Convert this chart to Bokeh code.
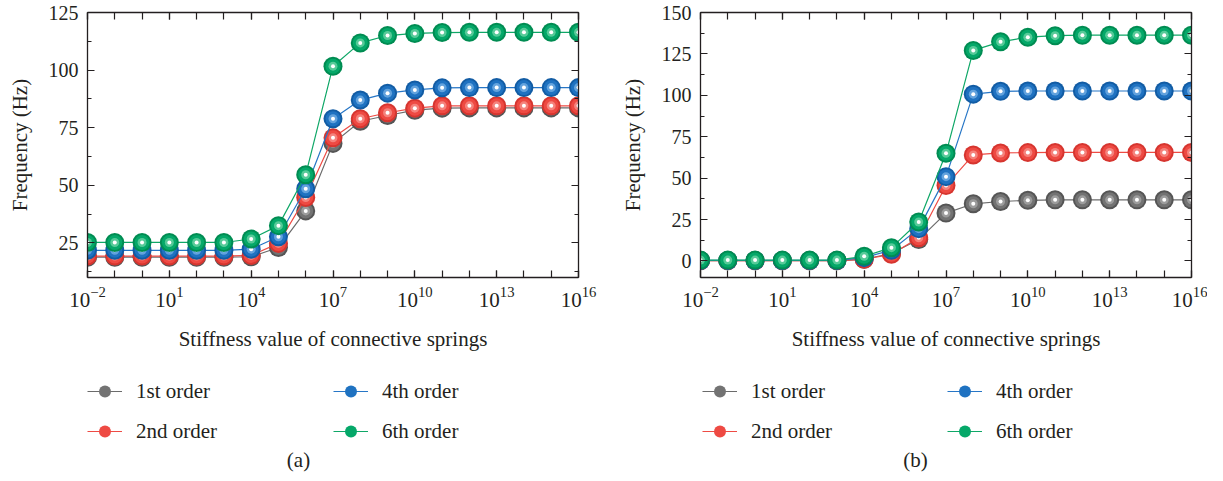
from bokeh.plotting import figure
from bokeh.models import (LogAxis, LinearAxis, FixedTicker, Legend, LegendItem,
                          Label, Range1d)
from bokeh.layouts import row, column
from bokeh.embed import file_html
from bokeh.resources import INLINE

# ---------------- data ----------------
exponents = list(range(-2, 17))          # stiffness = 10**exponent
stiffness = [10.0 ** e for e in exponents]

series_names = ["1st order", "2nd order", "4th order", "6th order"]

# panel (a)
a_1st = [18.8, 18.8, 18.8, 18.8, 18.8, 18.8, 19.0, 23.0, 38.9, 68.2, 77.8, 80.3, 82.6,
         83.5, 83.6, 83.6, 83.6, 83.6, 83.6]
a_2nd = [19.3, 19.3, 19.3, 19.3, 19.3, 19.3, 19.6, 24.8, 44.7, 70.6, 78.9, 81.5, 83.5,
         84.5, 84.5, 84.5, 84.5, 84.5, 84.5]
a_4th = [21.8, 21.8, 21.8, 21.8, 21.8, 21.8, 22.3, 27.7, 48.5, 78.9, 87.0, 90.0, 91.4,
         92.3, 92.4, 92.4, 92.4, 92.4, 92.4]
a_6th = [25.2, 25.2, 25.2, 25.2, 25.2, 25.2, 26.7, 32.5, 54.6, 101.7, 111.8, 115.0, 115.9,
         116.3, 116.4, 116.4, 116.4, 116.4, 116.4]

# panel (b)
b_1st = [0.1, 0.1, 0.1, 0.1, 0.1, 0.1, 1.0, 4.5, 12.9, 28.9, 34.5, 35.9, 36.6,
         36.9, 36.9, 36.9, 36.9, 36.9, 36.9]
b_2nd = [0.2, 0.2, 0.2, 0.2, 0.2, 0.2, 1.0, 4.0, 14.0, 45.5, 64.0, 65.2, 65.4,
         65.5, 65.5, 65.5, 65.5, 65.5, 65.5]
b_4th = [0.3, 0.3, 0.3, 0.3, 0.3, 0.3, 2.0, 6.5, 19.5, 50.9, 100.7, 102.4, 102.6,
         102.6, 102.6, 102.6, 102.6, 102.6, 102.6]
b_6th = [0.5, 0.5, 0.5, 0.5, 0.5, 0.5, 2.8, 8.0, 23.5, 65.0, 127.1, 132.3, 135.1,
         136.0, 136.3, 136.3, 136.3, 136.3, 136.3]

x_major = [1e-2, 1e1, 1e4, 1e7, 1e10, 1e13, 1e16]
a_yticks = [25, 50, 75, 100, 125]
b_yticks = [0, 25, 50, 75, 100, 125, 150]

# ---------------- style ----------------
FONT = "Liberation Serif"
INK = "#231f20"
# base, mid, light, line
PALETTE = [
    ("#555555", "#737373", "#a9a9a9", "#6b6b6b"),
    ("#d6352f", "#ee4a43", "#f7958f", "#ee4b44"),
    ("#125ca4", "#1f72c1", "#7ab3e6", "#2776c6"),
    ("#008c52", "#05a869", "#72d6a8", "#0fa767"),
]

PLOT_H = 356
LEG_H = 117


def style_axis(ax, show_labels, font_size, minor_len):
    ax.axis_line_color = INK
    ax.axis_line_width = 1.3
    ax.major_tick_in = 7
    ax.major_tick_out = 0
    ax.minor_tick_in = minor_len
    ax.minor_tick_out = 0
    ax.major_tick_line_color = INK
    ax.minor_tick_line_color = INK
    ax.major_tick_line_width = 1.2
    ax.minor_tick_line_width = 1.2
    if show_labels:
        ax.major_label_text_font = FONT
        ax.major_label_text_font_size = font_size
        ax.major_label_text_color = INK
        ax.major_label_standoff = 9
    else:
        ax.major_label_text_font_size = "1px"
        ax.major_label_text_alpha = 0
        ax.major_label_standoff = 0


def make_panel(series, y_lo, y_hi, yticks, caption, width, border_left, border_right,
               leg_x1, leg_x2, cap_x):
    p = figure(x_axis_type="log", x_range=Range1d(1e-2, 1e16),
               y_range=Range1d(y_lo, y_hi),
               width=width, height=PLOT_H,
               min_border_left=border_left, min_border_right=border_right,
               min_border_top=12, min_border_bottom=79,
               output_backend="svg", toolbar_location=None)
    p.xgrid.visible = False
    p.ygrid.visible = False
    p.outline_line_color = None
    p.background_fill_color = "white"
    p.border_fill_color = "white"

    bottom_ax = p.below[0]
    left_ax = p.left[0]

    minor_x = [10.0 ** e for e in exponents]
    yminor = [t + 12.5 for t in [yticks[0] - 25] + yticks]

    bottom_ax.ticker = FixedTicker(ticks=x_major, minor_ticks=minor_x)
    left_ax.ticker = FixedTicker(ticks=yticks, minor_ticks=yminor)
    style_axis(bottom_ax, True, "21px", 7)
    style_axis(left_ax, True, "20px", 4)

    left_ax.axis_label = "Frequency (Hz)"
    bottom_ax.axis_label = "Stiffness value of connective springs"
    for ax in (bottom_ax, left_ax):
        ax.axis_label_text_font = FONT
        ax.axis_label_text_font_size = "21px"
        ax.axis_label_text_font_style = "normal"
        ax.axis_label_text_color = INK
    left_ax.axis_label_standoff = 14
    bottom_ax.axis_label_standoff = 17

    top = LogAxis(ticker=FixedTicker(ticks=x_major, minor_ticks=minor_x))
    style_axis(top, False, "1px", 7)
    p.add_layout(top, "above")
    right = LinearAxis(ticker=FixedTicker(ticks=yticks, minor_ticks=yminor))
    style_axis(right, False, "1px", 4)
    p.add_layout(right, "right")

    for (name, ys), (base, mid, light, line) in zip(series, PALETTE):
        p.line(stiffness, ys, line_color=line, line_width=1.2)
        p.scatter(stiffness, ys, size=19, fill_color=base, line_color=None)
        p.scatter(stiffness, ys, size=15, fill_color=mid, line_color=None)
        p.scatter(stiffness, ys, size=9, fill_color=light, line_color=None, fill_alpha=0.75)
        p.scatter(stiffness, ys, size=4, fill_color="white", line_color=None)

    # ---- legend + caption strip below the plot ----
    lf = figure(width=width, height=LEG_H, x_range=Range1d(0, 1), y_range=Range1d(0, 1),
                x_axis_location=None, y_axis_location=None,
                min_border_left=0, min_border_right=0, min_border_top=0, min_border_bottom=0,
                output_backend="svg", toolbar_location=None)
    lf.xgrid.visible = False
    lf.ygrid.visible = False
    lf.outline_line_color = None
    lf.background_fill_color = "white"
    lf.border_fill_color = "white"

    items = []
    for name, (base, mid, light, line) in zip(series_names, PALETTE):
        ln = lf.line([-5, -4], [-5, -4], line_color=line, line_width=1.2)
        sc = lf.scatter([-5], [-5], size=12, fill_color=mid, line_color=None)
        items.append(LegendItem(label=name, renderers=[ln, sc]))

    def legend(its, x):
        return Legend(items=its, location=(x, 27), orientation="vertical",
                      glyph_width=35, glyph_height=30, label_height=30,
                      spacing=10, padding=0, margin=0, border_line_color=None,
                      background_fill_alpha=0, label_text_font=FONT,
                      label_text_font_style="normal",
                      label_text_font_size="21px", label_standoff=14,
                      label_text_color=INK)

    lf.add_layout(legend(items[:2], leg_x1))
    lf.add_layout(legend(items[2:], leg_x2))
    lf.add_layout(Label(x=cap_x, y=14, x_units="screen", y_units="screen",
                        text=caption, text_align="center", text_baseline="middle",
                        text_font=FONT, text_font_size="21px", text_color=INK))
    return column(p, lf, spacing=0)


pa = make_panel(list(zip(series_names, [a_1st, a_2nd, a_4th, a_6th])), 10, 125,
                a_yticks, "(a)", 600, 87, 22, 0, 246, 211)
pb = make_panel(list(zip(series_names, [b_1st, b_2nd, b_4th, b_6th])), -10, 150,
                b_yticks, "(b)", 607, 100, 16, 2, 247, 215)

layout = row(pa, pb, spacing=0)
open("out.html", "w").write(file_html(layout, INLINE))
